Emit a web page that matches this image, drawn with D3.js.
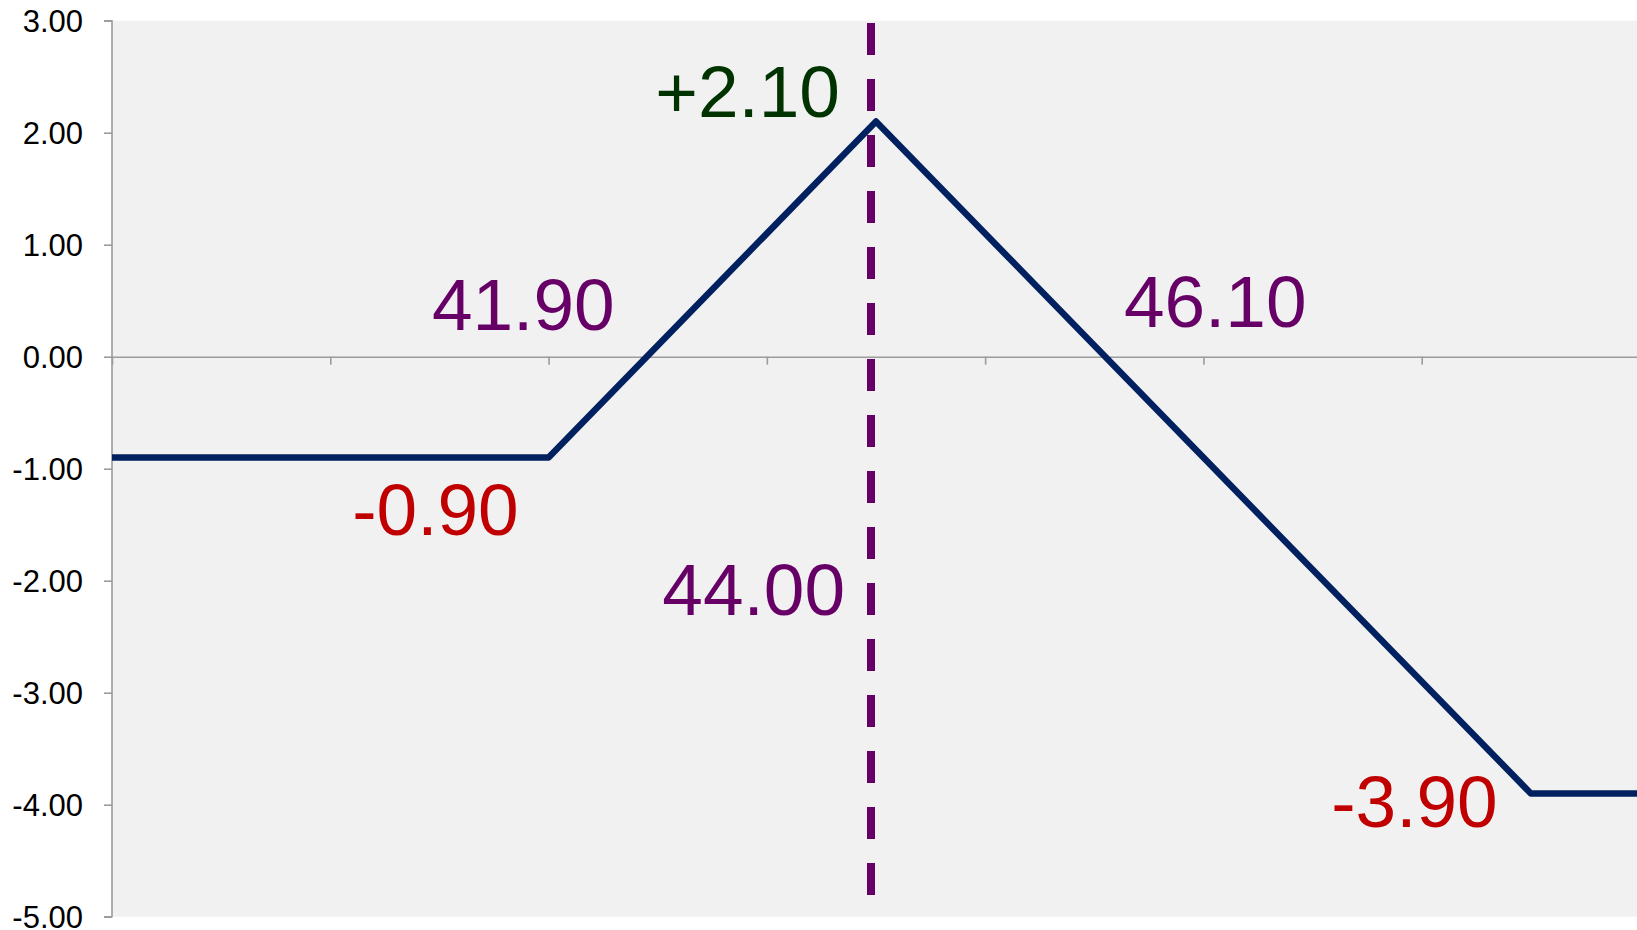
<!DOCTYPE html>
<html>
<head>
<meta charset="utf-8">
<script src="https://cdn.jsdelivr.net/npm/d3@7"></script>
<style>
  html, body { margin: 0; padding: 0; background: #ffffff; }
  svg { display: block; font-family: Arial, "Liberation Sans", sans-serif; }
</style>
</head>
<body>
<svg id="chart" width="1637" height="930"></svg>
<script>
// ---- data ----
const prices  = [37, 41, 44, 50, 51];          // underlying price at expiry
const payoffs = [-0.90, -0.90, 2.10, -3.90, -3.90]; // profit / loss
const yTicks  = [3, 2, 1, 0, -1, -2, -3, -4, -5];
const xTicks  = [39, 41, 43, 45, 47, 49];
const strikeLine = [44.0, 2.98, -4.81];          // x value, y from, y to (dashed marker)
const labelTexts  = ["+2.10", "41.90", "46.10", "-0.90", "44.00", "-3.90"];
const labelX      = [43.67, 41.605, 47.945, 40.726, 43.716, 49.696];
const labelY      = [2.143, 0.238, 0.265, -1.592, -2.306, -4.196];
const labelColors = ["#003300", "#660066", "#660066", "#c00000", "#660066", "#c00000"];

// ---- layout ----
const svg = d3.select("#chart");
const mLeft = 112, mRight = 1640, mTop = 20.7, mBottom = 916.7;

const x = d3.scaleLinear().domain([37, 51]).range([mLeft, mRight]);
const y = d3.scaleLinear().domain([-5, 3]).range([mBottom, mTop]);

// plot background
svg.append("rect")
  .attr("x", mLeft).attr("y", mTop)
  .attr("width", mRight - mLeft).attr("height", mBottom - mTop)
  .attr("fill", "#f1f1f1");

// x axis at zero
const xAxis = d3.axisBottom(x).tickValues(xTicks).tickSize(8).tickFormat("");
const gx = svg.append("g").attr("transform", `translate(0,${y(0)})`).call(xAxis);
gx.select(".domain").attr("stroke", "#9c9c9c").attr("stroke-width", 1.6);
gx.selectAll(".tick line").attr("stroke", "#9c9c9c").attr("stroke-width", 1.6);

// y axis
const yAxis = d3.axisLeft(y).tickValues(yTicks).tickSize(8).tickPadding(21)
  .tickFormat(d => d.toFixed(2));
const gy = svg.append("g").attr("transform", `translate(${mLeft},0)`).call(yAxis);
gy.select(".domain").attr("stroke", "#9c9c9c").attr("stroke-width", 1.6)
  .attr("d", `M-8,${mTop}H0V${mBottom}H-8`);
gy.selectAll(".tick line").attr("stroke", "#9c9c9c").attr("stroke-width", 1.6);
gy.selectAll(".tick text")
  .attr("font-size", "31px")
  .attr("fill", "#000")
  .attr("font-family", "Arial, 'Liberation Sans', sans-serif")
  .attr("dy", "0.36em");

// dashed strike marker
svg.append("line")
  .attr("x1", x(strikeLine[0]) - 5).attr("x2", x(strikeLine[0]) - 5)
  .attr("y1", y(strikeLine[1])).attr("y2", y(strikeLine[2]))
  .attr("stroke", "#660066").attr("stroke-width", 8)
  .attr("stroke-dasharray", "32,24");

// payoff line
const pts = prices.map((p, i) => [p, payoffs[i]]);
svg.append("path")
  .datum(pts)
  .attr("fill", "none")
  .attr("stroke", "#002060")
  .attr("stroke-width", 6.5)
  .attr("stroke-linejoin", "round")
  .attr("d", d3.line().x(d => x(d[0])).y(d => y(d[1])));

// annotations
svg.selectAll("text.lbl")
  .data(labelTexts)
  .enter().append("text")
  .attr("class", "lbl")
  .attr("x", (d, i) => x(labelX[i]))
  .attr("y", (d, i) => y(labelY[i]))
  .attr("text-anchor", "end")
  .attr("font-size", "73px")
  .attr("fill", (d, i) => labelColors[i])
  .text(d => d);
</script>
</body>
</html>
